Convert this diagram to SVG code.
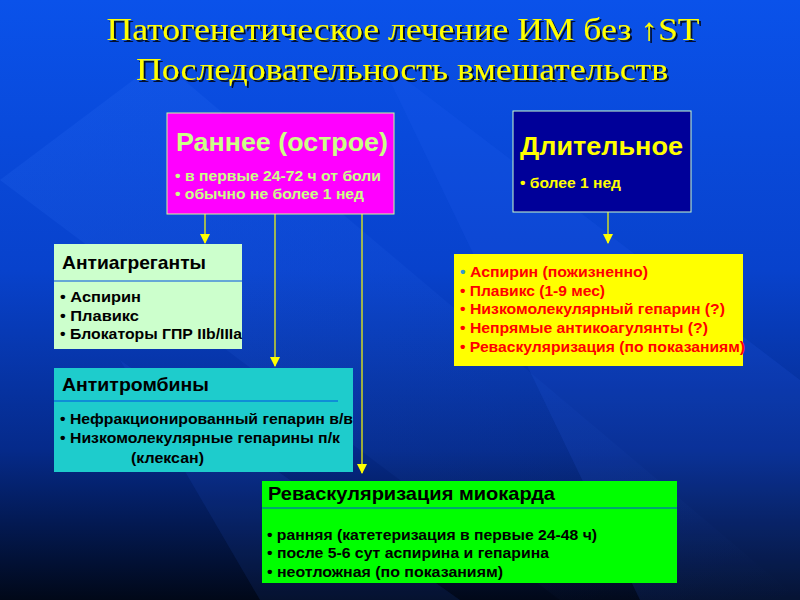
<svg xmlns="http://www.w3.org/2000/svg" width="800" height="600" viewBox="0 0 800 600">
<defs>
<linearGradient id="bg" x1="0" y1="0" x2="0" y2="1">
<stop offset="0" stop-color="#0A52EA"/>
<stop offset="0.45" stop-color="#0842CC"/>
<stop offset="0.75" stop-color="#052A8A"/>
<stop offset="1" stop-color="#010818"/>
</linearGradient>
<linearGradient id="band" x1="0" y1="0" x2="1" y2="1">
<stop offset="0" stop-color="#3A7BFF" stop-opacity="0.25"/>
<stop offset="1" stop-color="#3A7BFF" stop-opacity="0"/>
</linearGradient>
<filter id="sh" x="-5%" y="-20%" width="110%" height="140%">
<feDropShadow dx="2" dy="2" stdDeviation="0.6" flood-color="#000" flood-opacity="0.8"/>
</filter>
<marker id="ah" viewBox="0 0 10 10" refX="9" refY="5" markerWidth="10" markerHeight="10" markerUnits="userSpaceOnUse" orient="auto">
<path d="M0,0 L10,5 L0,10 z" fill="#FFFF00"/>
</marker>
</defs>
<style>
.t{font-family:"Liberation Serif","Times New Roman",serif;font-size:31px;fill:#FFFF00;text-anchor:middle}
.s{font-family:"Liberation Sans",Arial,sans-serif;font-weight:bold}
.big{font-size:26px}
.hd{font-size:18.5px;fill:#000}
.b{font-size:15.5px}
.k{fill:#000}
.r{fill:#FF0000}
.c{stroke:#FFFF00;stroke-width:1.2;fill:none;marker-end:url(#ah)}
</style>
<rect width="800" height="600" fill="url(#bg)"/>
<polygon points="0,180 160,60 800,600 560,600" fill="url(#band)" opacity="0.6"/>
<polygon points="380,60 800,380 800,600 640,600" fill="#2F6FFF" opacity="0.12"/>
<polygon points="120,360 460,600 260,600" fill="#2F6FFF" opacity="0.1"/>
<g id="title" filter="url(#sh)">
<text class="t" x="403" y="40" textLength="593" lengthAdjust="spacingAndGlyphs">Патогенетическое лечение ИМ без ↑ST</text>
<text class="t" x="402" y="80" textLength="532" lengthAdjust="spacingAndGlyphs">Последовательность вмешательств</text>
</g>
<g id="connectors">
<line class="c" x1="205" y1="214" x2="205" y2="243"/>
<line class="c" x1="275" y1="214" x2="275" y2="366"/>
<line class="c" x1="362" y1="214" x2="362" y2="473"/>
<line class="c" x1="608" y1="212" x2="608" y2="243"/>
</g>
<g id="early">
<rect x="167" y="113" width="227" height="101" fill="#FF00FF" stroke="#CCFF99" stroke-width="1"/>
<text class="s big" x="176" y="151" fill="#CCFF88" textLength="212" lengthAdjust="spacingAndGlyphs">Раннее (острое)</text>
<text class="s b" x="175" y="181" fill="#CCFF88" textLength="206" lengthAdjust="spacingAndGlyphs">• в первые 24-72 ч от боли</text>
<text class="s b" x="175" y="199" fill="#CCFF88" textLength="189" lengthAdjust="spacingAndGlyphs">• обычно не более 1 нед</text>
</g>
<g id="long">
<rect x="513" y="111" width="178" height="101" fill="#000099" stroke="#CCFFCC" stroke-width="1"/>
<text class="s big" x="520" y="155" fill="#FFFF00" textLength="163" lengthAdjust="spacingAndGlyphs">Длительное</text>
<text class="s b" x="520" y="188" fill="#FFFF00" textLength="101" lengthAdjust="spacingAndGlyphs">• более 1 нед</text>
</g>
<g id="antiagg">
<rect x="54" y="244" width="188" height="105" fill="#CCFFCC"/>
<line x1="54" y1="281" x2="242" y2="281" stroke="#0050E0" stroke-width="1"/>
<text class="s hd" x="62" y="269" textLength="144" lengthAdjust="spacingAndGlyphs">Антиагреганты</text>
<text class="s b k" x="60" y="302" textLength="81" lengthAdjust="spacingAndGlyphs">• Аспирин</text>
<text class="s b k" x="60" y="321" textLength="79" lengthAdjust="spacingAndGlyphs">• Плавикс</text>
<text class="s b k" x="60" y="339" textLength="182" lengthAdjust="spacingAndGlyphs">• Блокаторы ГПР IIb/IIIa</text>
</g>
<g id="antithromb">
<rect x="54" y="368" width="299" height="104" fill="#1ECCCC"/>
<line x1="54" y1="401" x2="338" y2="401" stroke="#0050E0" stroke-width="1"/>
<text class="s hd" x="62" y="391" textLength="147" lengthAdjust="spacingAndGlyphs">Антитромбины</text>
<text class="s b k" x="60" y="424" textLength="293" lengthAdjust="spacingAndGlyphs">• Нефракционированный гепарин в/в</text>
<text class="s b k" x="60" y="443" textLength="280" lengthAdjust="spacingAndGlyphs">• Низкомолекулярные гепарины п/к</text>
<text class="s b k" x="131" y="463" textLength="73" lengthAdjust="spacingAndGlyphs">(клексан)</text>
</g>
<g id="revasc">
<rect x="262" y="481" width="415" height="102" fill="#00FF00"/>
<line x1="262" y1="508" x2="677" y2="508" stroke="#0050E0" stroke-width="1"/>
<text class="s hd" x="268" y="500" textLength="287" lengthAdjust="spacingAndGlyphs">Реваскуляризация  миокарда</text>
<text class="s b k" x="267" y="540" textLength="330" lengthAdjust="spacingAndGlyphs">• ранняя (катетеризация в первые 24-48 ч)</text>
<text class="s b k" x="267" y="558" textLength="282" lengthAdjust="spacingAndGlyphs">• после 5-6 сут аспирина и гепарина</text>
<text class="s b k" x="267" y="577" textLength="236" lengthAdjust="spacingAndGlyphs">• неотложная (по показаниям)</text>
</g>
<g id="longlist">
<rect x="454" y="254" width="289" height="112" fill="#FFFF00"/>
<text class="s b" x="460" y="277" textLength="188" lengthAdjust="spacingAndGlyphs"><tspan fill="#3399CC">•</tspan><tspan fill="#FF0000"> Аспирин (пожизненно)</tspan></text>
<text class="s b r" x="460" y="296" textLength="145" lengthAdjust="spacingAndGlyphs">• Плавикс (1-9 мес)</text>
<text class="s b r" x="460" y="314" textLength="265" lengthAdjust="spacingAndGlyphs">• Низкомолекулярный гепарин (?)</text>
<text class="s b r" x="460" y="333" textLength="248" lengthAdjust="spacingAndGlyphs">• Непрямые антикоагулянты (?)</text>
<text class="s b r" x="460" y="352" textLength="285" lengthAdjust="spacingAndGlyphs">• Реваскуляризация (по показаниям)</text>
</g>
</svg>
